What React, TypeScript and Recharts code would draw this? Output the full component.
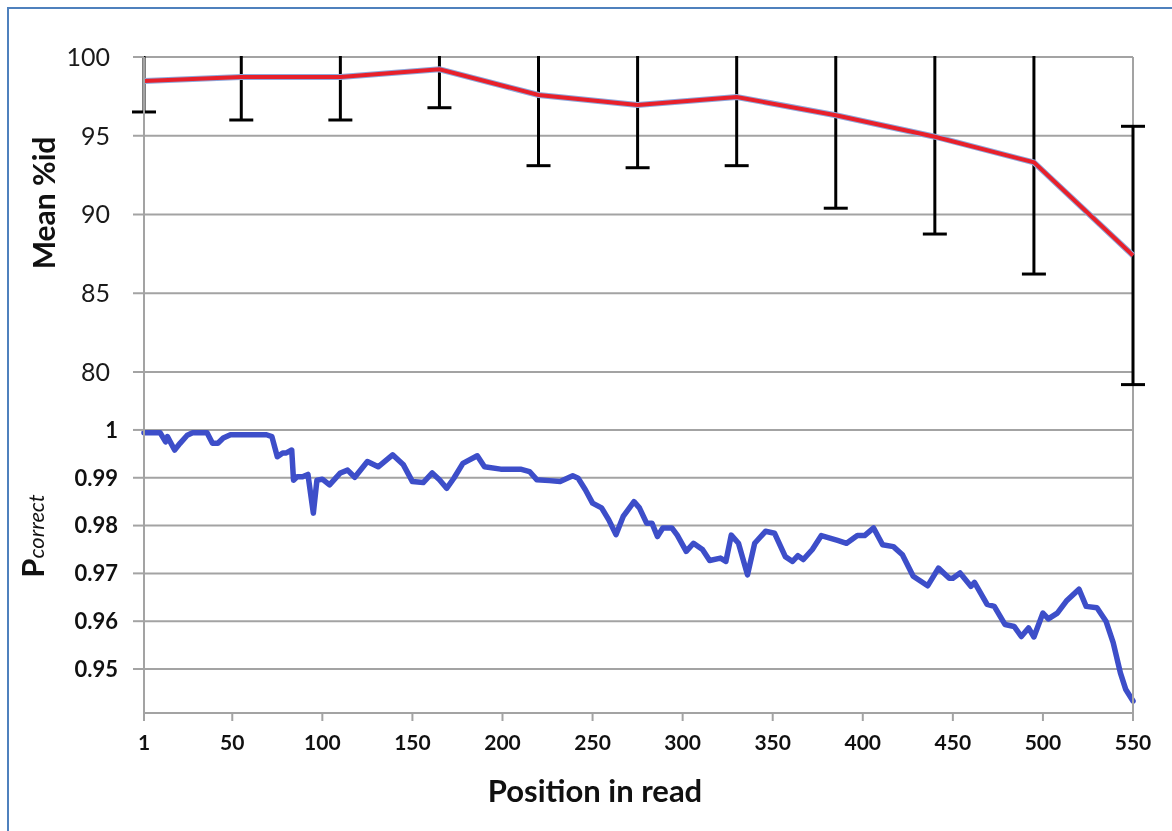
import React from 'react';
import { ComposedChart, Line, XAxis, YAxis, CartesianGrid, ErrorBar } from 'recharts';

const meanPositions = [1, 55, 110, 165, 220, 275, 330, 385, 440, 495, 550];
const meanIdentity = [98.47, 98.73, 98.73, 99.22, 97.59, 96.95, 97.46, 96.3, 94.94, 93.31, 87.4];
const meanErrors = [1.96, 2.73, 2.73, 2.44, 4.49, 3.98, 4.36, 5.9, 6.18, 7.09, 8.2];

const pcPositions = [
  1, 10, 13, 14, 18, 21, 25, 28, 36, 39, 42, 45, 49, 69, 72, 75, 78, 80, 83, 84,
  86, 89, 92, 95, 97, 100, 104, 108, 110, 114, 118, 125, 131, 139, 145, 150, 156, 161, 165, 169,
  173, 178, 186, 190, 199, 210, 215, 219, 226, 232, 239, 242, 246, 250, 255, 259, 263, 267, 273, 276,
  280, 283, 286, 289, 294, 297, 302, 306, 311, 315, 321, 324, 327, 331, 336, 340, 346, 351, 357, 361,
  364, 367, 372, 377, 386, 391, 397, 401, 406, 411, 417, 422, 428, 436, 442, 448, 450, 454, 460, 462,
  469, 473, 479, 484, 488, 492, 495, 500, 503, 508, 513, 520, 524, 530, 535, 539, 543, 546, 550,
];
const pcValues = [
  0.9994, 0.9994, 0.9975, 0.9986, 0.9958, 0.9972, 0.9989, 0.9994, 0.9994, 0.9972, 0.9972, 0.9983, 0.999, 0.999, 0.9986, 0.9944, 0.9952, 0.9952, 0.9958, 0.9895,
  0.9902, 0.9902, 0.9907, 0.9826, 0.9895, 0.9897, 0.9885, 0.9902, 0.991, 0.9916, 0.9901, 0.9934, 0.9923, 0.9948, 0.9927, 0.9892, 0.989, 0.991, 0.9896, 0.9878,
  0.9899, 0.993, 0.9946, 0.9923, 0.9918, 0.9918, 0.9913, 0.9896, 0.9894, 0.9892, 0.9904, 0.9899, 0.9875, 0.9847, 0.9837, 0.9812, 0.9781, 0.9819, 0.985, 0.9837,
  0.9805, 0.9805, 0.9777, 0.9795, 0.9795, 0.978, 0.9746, 0.9763, 0.975, 0.9727, 0.9732, 0.9725, 0.978, 0.9763, 0.9697, 0.9763, 0.9788, 0.9784, 0.9735, 0.9725,
  0.9737, 0.9729, 0.975, 0.9779, 0.9769, 0.9763, 0.9779, 0.9779, 0.9795, 0.976, 0.9756, 0.9739, 0.9694, 0.9674, 0.9711, 0.969, 0.969, 0.9701, 0.9673, 0.9681,
  0.9635, 0.9631, 0.9593, 0.9589, 0.9568, 0.9586, 0.9567, 0.9617, 0.9605, 0.9617, 0.9642, 0.9667, 0.9631, 0.9628, 0.96, 0.9555, 0.9492, 0.9457, 0.9433,
];

const xTicks = [1, 50, 100, 150, 200, 250, 300, 350, 400, 450, 500, 550];
const meanTicks = [80, 85, 90, 95, 100];
const pTicks = [0.95, 0.96, 0.97, 0.98, 0.99, 1];

const meanRows = meanPositions.map((pos, i) => ({ pos, mean: meanIdentity[i], err: meanErrors[i] }));
const pRows = pcPositions.map((pos, i) => ({ pos, p: pcValues[i] }));

const FONT = 'Lato, "Open Sans", sans-serif';
const GRID = '#A3A3A3';
const W = 1172;
const H = 831;

const layer: React.CSSProperties = { position: 'fixed', left: 0, top: 0, width: W, height: H };

export default function App() {
  return (
    <div>
      <div
        style={{
          position: 'fixed',
          left: 7,
          top: 7,
          width: 1200,
          height: 900,
          border: '2px solid #4F81BD',
          boxSizing: 'border-box',
        }}
      />
      {/* lower panel: P correct */}
      <div style={layer}>
        <ComposedChart width={W} height={H} margin={{ top: 57, right: 39, bottom: 118, left: 0 }}>
          <CartesianGrid vertical={false} stroke={GRID} strokeWidth={2} />
          <XAxis dataKey="pos" type="number" domain={[1, 550]} ticks={xTicks} hide />
          <YAxis
            width={144}
            type="number"
            domain={[0.9408, 1.078]}
            ticks={pTicks}
            interval={0}
            tickSize={11}
            tickMargin={15}
            stroke={GRID}
            strokeWidth={2}
            tick={{ fill: '#111', fontSize: 22, fontWeight: 700, fontFamily: FONT }}
          />
          <Line
            data={pRows}
            dataKey="p"
            stroke="#3D4EC9"
            strokeWidth={5.5}
            strokeLinejoin="round"
            strokeLinecap="round"
            dot={false}
            isAnimationActive={false}
          />
        </ComposedChart>
      </div>
      {/* upper panel: mean %id, with the shared x axis */}
      <div style={layer}>
        <ComposedChart width={W} height={H} margin={{ top: 57, right: 39, bottom: 58, left: 0 }}>
          <defs>
            <clipPath id="meanPlotClip">
              <rect x={100} y={56} width={1100} height={720} />
            </clipPath>
          </defs>
          <CartesianGrid
            vertical={true}
            horizontal={true}
            stroke={GRID}
            strokeWidth={2}
            verticalCoordinatesGenerator={({ offset }: any) => [offset.left + offset.width]}
          />
          <XAxis
            dataKey="pos"
            type="number"
            domain={[1, 550]}
            ticks={xTicks}
            interval={0}
            height={60}
            tickSize={8}
            tickMargin={14}
            stroke={GRID}
            strokeWidth={2}
            tick={{ fill: '#111', fontSize: 21, fontWeight: 700, fontFamily: FONT }}
            allowDuplicatedCategory={false}
          />
          <YAxis
            width={144}
            type="number"
            domain={[58.35, 100]}
            allowDataOverflow={true}
            ticks={meanTicks}
            interval={0}
            tickSize={11}
            tickMargin={23}
            stroke={GRID}
            strokeWidth={2}
            tick={{ fill: '#1a1a1a', fontSize: 25, fontFamily: FONT }}
          />
          <Line
            data={meanRows}
            dataKey="mean"
            stroke="#8FA8DC"
            strokeWidth={6}
            dot={false}
            isAnimationActive={false}
          >
            <ErrorBar
              dataKey="err"
              direction="y"
              width={12}
              strokeWidth={3}
              stroke="#000"
              clipPath="url(#meanPlotClip)"
            />
          </Line>
          <Line
            data={meanRows}
            dataKey="mean"
            stroke="#E8202A"
            strokeWidth={4}
            dot={false}
            isAnimationActive={false}
          />
        </ComposedChart>
      </div>
      <div
        style={{
          position: 'fixed',
          left: 43,
          top: 203,
          transform: 'translate(-50%, -50%) rotate(-90deg)',
          whiteSpace: 'nowrap',
          fontFamily: FONT,
          fontWeight: 700,
          fontSize: 30,
          color: '#111',
        }}
      >
        Mean %id
      </div>
      <div
        style={{
          position: 'fixed',
          left: 32,
          top: 536,
          transform: 'translate(-50%, -50%) rotate(-90deg)',
          whiteSpace: 'nowrap',
          fontFamily: FONT,
          fontWeight: 700,
          color: '#111',
        }}
      >
        <span style={{ fontSize: 31 }}>P</span>
        <span style={{ fontSize: 22, fontStyle: 'italic', fontWeight: 400 }}>correct</span>
      </div>
      <div
        style={{
          position: 'fixed',
          left: 595,
          top: 790,
          transform: 'translate(-50%, -50%)',
          whiteSpace: 'nowrap',
          fontFamily: FONT,
          fontWeight: 700,
          fontSize: 31,
          color: '#111',
        }}
      >
        Position in read
      </div>
    </div>
  );
}
